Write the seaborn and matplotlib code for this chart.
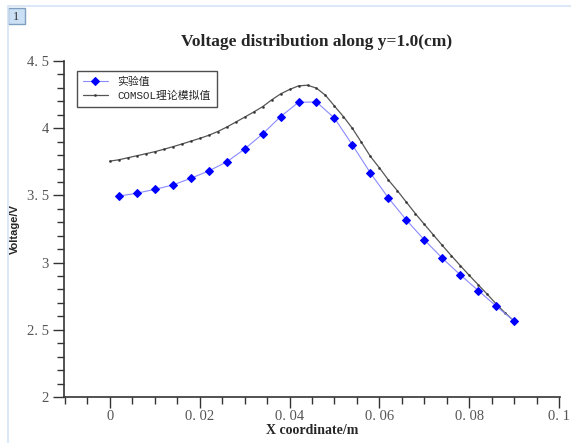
#!/usr/bin/env python3

# Voltage distribution along y=1.0(cm): measured vs COMSOL values.

from matplotlib.lines import Line2D
from matplotlib.patches import Rectangle
from matplotlib.ticker import FuncFormatter, MultipleLocator
import matplotlib.pylab as plt
import pandas
import seaborn as sns

# measured values (实验值)
exp_x = [0.002, 0.006, 0.010, 0.014, 0.018, 0.022, 0.026, 0.030, 0.034,
         0.038, 0.042, 0.046, 0.050, 0.054, 0.058, 0.062, 0.066, 0.070,
         0.074, 0.078, 0.082, 0.086, 0.090]
exp_v = [3.495, 3.516, 3.545, 3.577, 3.627, 3.682, 3.749, 3.845, 3.957,
         4.086, 4.193, 4.195, 4.075, 3.875, 3.667, 3.481, 3.317, 3.169,
         3.033, 2.909, 2.792, 2.676, 2.565]

# COMSOL simulation (COMSOL理论模拟值)
sim_x = [0.000, 0.002, 0.004, 0.006, 0.008, 0.010, 0.012, 0.014, 0.016,
         0.018, 0.020, 0.022, 0.024, 0.026, 0.028, 0.030, 0.032, 0.034,
         0.036, 0.038, 0.040, 0.042, 0.044, 0.046, 0.048, 0.050, 0.052,
         0.054, 0.056, 0.058, 0.060, 0.062, 0.064, 0.066, 0.068, 0.070,
         0.072, 0.074, 0.076, 0.078, 0.080, 0.082, 0.084, 0.086, 0.088,
         0.090]
sim_v = [3.755, 3.765, 3.780, 3.795, 3.810, 3.825, 3.843, 3.862, 3.882,
         3.903, 3.924, 3.947, 3.975, 4.008, 4.045, 4.082, 4.120, 4.160,
         4.210, 4.255, 4.288, 4.315, 4.320, 4.298, 4.245, 4.165, 4.086,
         3.998, 3.895, 3.790, 3.705, 3.615, 3.535, 3.450, 3.365, 3.285,
         3.207, 3.128, 3.052, 2.978, 2.905, 2.835, 2.765, 2.692, 2.625,
         2.565]

x_ticks = [0, 0.02, 0.04, 0.06, 0.08, 0.1]
y_ticks = [2, 2.5, 3, 3.5, 4, 4.5]

exp_df = pandas.DataFrame({"x": exp_x, "v": exp_v})
sim_df = pandas.DataFrame({"x": sim_x, "v": sim_v})

sns.set_style("ticks")
plt.rcParams["font.family"] = ["Liberation Serif", "DejaVu Serif"]

fig = plt.figure(figsize=(5.71, 4.43), dpi=100)
W, H = 571.0, 443.0
ax = fig.add_axes([64 / W, 1 - 397 / H, 496 / W, 336 / H])

sns.lineplot(data=exp_df, x="x", y="v", ax=ax, color="#8a8aff", linewidth=0.8,
             marker="D", markersize=4, markerfacecolor="#0000ff",
             markeredgecolor="#0000ff", label="实验值", zorder=3)
sns.lineplot(data=sim_df, x="x", y="v", ax=ax, color="#555555", linewidth=0.9,
             marker=".", markersize=3, markerfacecolor="#333333",
             markeredgecolor="#333333", markeredgewidth=0.3,
             label="COMSOL理论模拟值", zorder=2)

ax.set_xlim(-0.0102, 0.1002)
ax.set_ylim(2, 4.5)
ax.set_xticks(x_ticks)
ax.set_yticks(y_ticks)
ax.xaxis.set_minor_locator(MultipleLocator(0.005))
ax.yaxis.set_minor_locator(MultipleLocator(0.1))


def fmt(v, _):
    s = ("%g" % v)
    return s.replace(".", ". ")


ax.xaxis.set_major_formatter(FuncFormatter(fmt))
ax.yaxis.set_major_formatter(FuncFormatter(fmt))
ax.tick_params(which="major", length=8, width=1, direction="out",
               labelsize=10.5, labelcolor="#555555", color="#333333")
ax.tick_params(which="minor", length=5, width=1, direction="out",
               color="#333333")
ax.tick_params(axis="y", pad=3)
ax.tick_params(axis="x", pad=1)
for side in ["top", "right"]:
    ax.spines[side].set_visible(False)
for side in ["left", "bottom"]:
    ax.spines[side].set_linewidth(1.2)
    ax.spines[side].set_color("#333333")

ax.set_title("Voltage distribution along y=1.0(cm)", fontsize=12.5,
             fontweight="bold", pad=11, x=0.51)
ax.set_xlabel("X coordinate/m", fontsize=10, fontweight="bold", labelpad=1)
ax.set_ylabel("Voltage/V", fontsize=8, fontweight="bold",
              family=["Liberation Sans", "DejaVu Sans"])
ax.yaxis.set_label_coords((20 - 64) / 496, 0.5)

leg = ax.legend(loc="upper left", bbox_to_anchor=(13 / 496, 326 / 336),
                borderaxespad=0, frameon=True, fancybox=False, borderpad=0.55,
                handlelength=2.3, handletextpad=0.9, labelspacing=0.3,
                prop={"family": ["Liberation Mono", "Noto Sans CJK SC"],
                      "size": 7.8})
leg.get_frame().set_edgecolor("#222222")
leg.get_frame().set_linewidth(1.0)

# page frame and the "1" label box
fig.add_artist(Line2D([8 / W, 1], [1 - 6 / H, 1 - 6 / H], color="#d6e4f5",
                      linewidth=1.2))
fig.add_artist(Line2D([7.5 / W, 7.5 / W], [0, 1 - 6 / H], color="#d6e4f5",
                      linewidth=1.2))
fig.add_artist(Rectangle((8 / W, 1 - 24 / H), 17 / W, 16 / H,
                         facecolor="#cce0f5", edgecolor="#7f9fc0",
                         linewidth=1.0))
fig.text(16.5 / W, 1 - 16.5 / H, "1", ha="center", va="center", fontsize=9,
         color="#333333")

plt.savefig("out.png", dpi=100)
